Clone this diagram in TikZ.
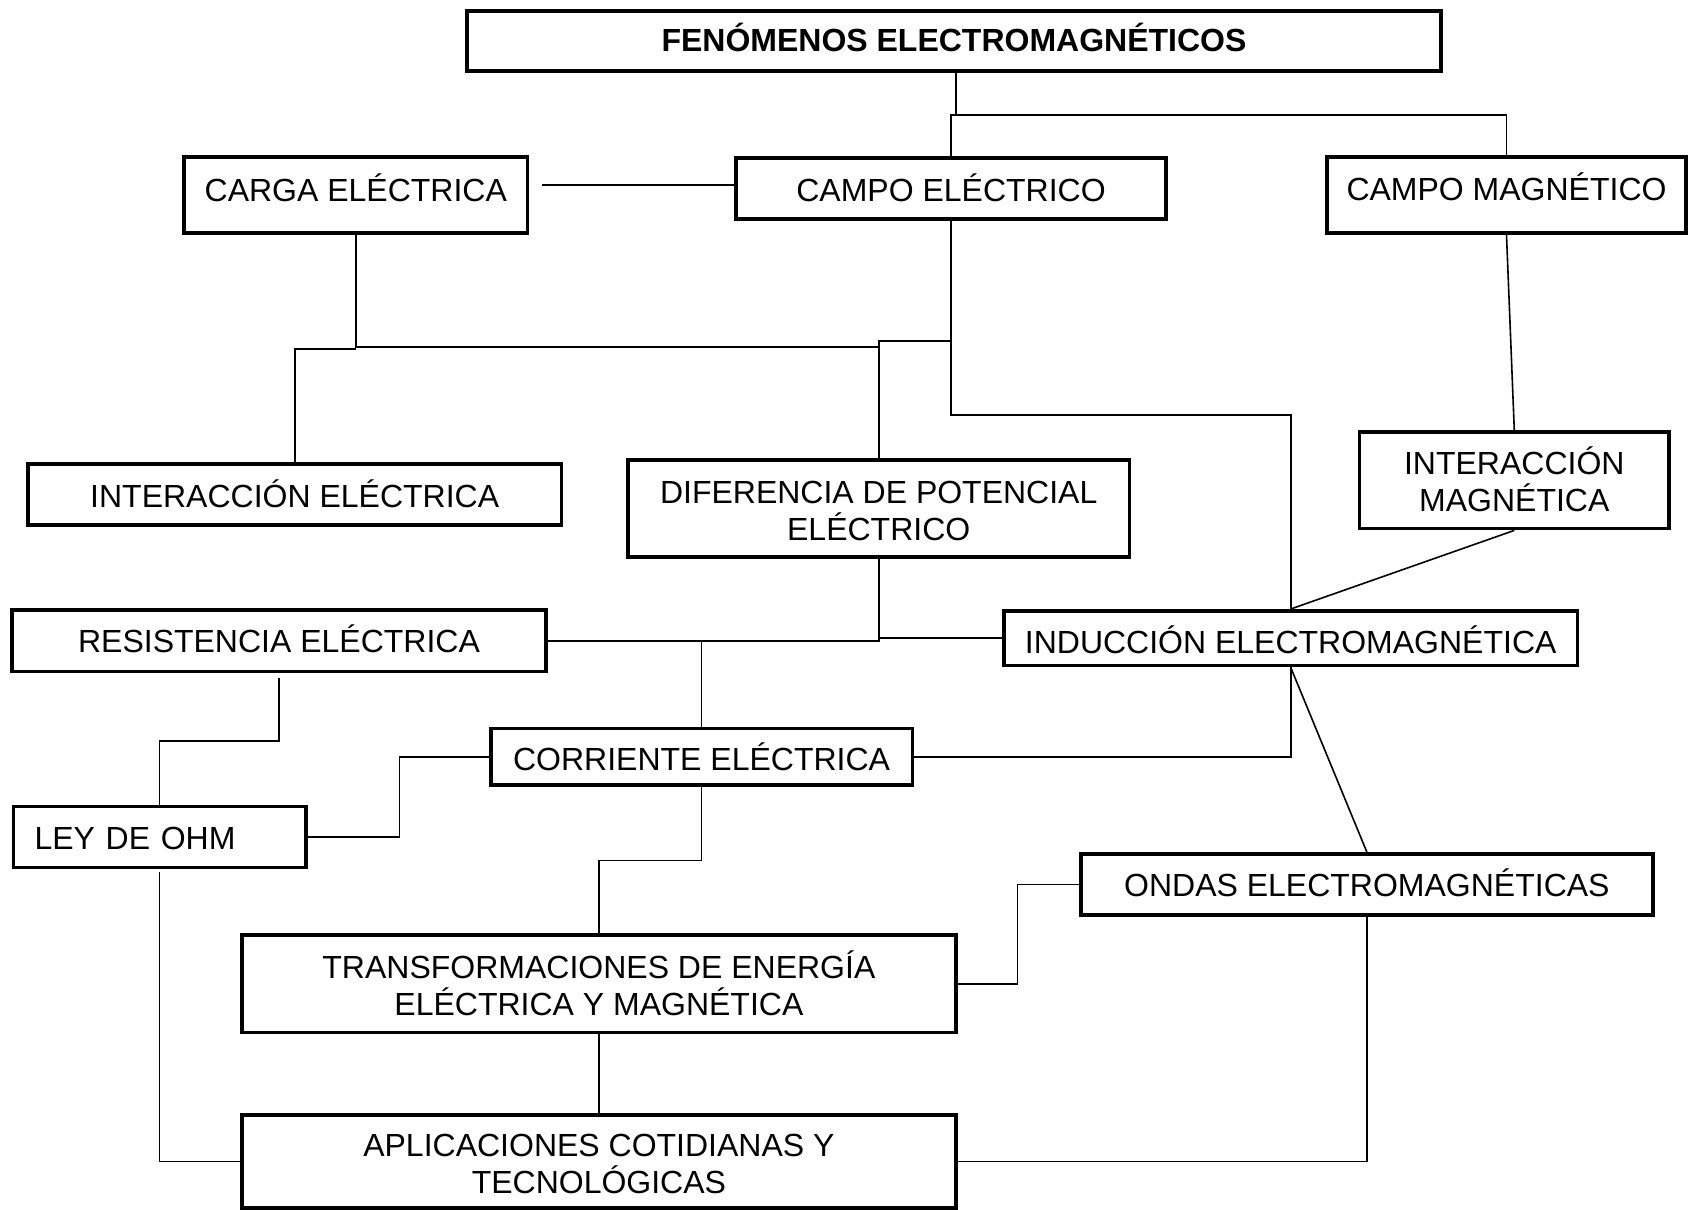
\documentclass[tikz,border=0pt]{standalone}
\usepackage{fontspec}
\setmainfont{Liberation Sans}
\begin{document}
\begin{tikzpicture}[x=0.5pt,y=-0.5pt,
  box/.style={draw, line width=1.8pt, inner sep=0pt, align=center,
    font=\fontsize{16pt}{18.5pt}\selectfont},
  conn/.style={line width=0.8pt}]
\useasboundingbox (0,0) rectangle (1688,1210);
\fill[white] (0,0) rectangle (1688,1210);

% nodes
\node[box, font=\fontsize{16pt}{18.5pt}\selectfont\bfseries, minimum width=487pt, minimum height=30pt, text height=13.1pt, text depth=2.9pt] (title) at (954,41) {FENÓMENOS ELECTROMAGNÉTICOS};
\node[box, minimum width=171.75pt, minimum height=38pt, text height=11.2pt, text depth=4.8pt] (carga) at (355.8,195) {CARGA ELÉCTRICA};
\node[box, minimum width=215pt, minimum height=30.5pt, text height=14.7pt, text depth=1.3pt] (campoe) at (951,188.5) {CAMPO ELÉCTRICO};
\node[box, minimum width=179.5pt, minimum height=38pt, text height=10.95pt, text depth=5.05pt] (campom) at (1506.5,195) {CAMPO MAGNÉTICO};
\node[box, minimum width=266.7pt, minimum height=30.35pt, text height=14.35pt, text depth=1.65pt] (intere) at (294.7,494.4) {INTERACCIÓN ELÉCTRICA};
\node[box, minimum width=250.65pt, minimum height=48.35pt, text height=31.6pt, text depth=0pt] (dif) at (878.7,508.4) {DIFERENCIA DE POTENCIAL\\ELÉCTRICO};
\node[box, minimum width=154.7pt, minimum height=48.3pt, text height=30.7pt, text depth=0pt] (interm) at (1514.3,480.3) {INTERACCIÓN\\MAGNÉTICA};
\node[box, minimum width=267.25pt, minimum height=30.7pt, text height=14.1pt, text depth=1.9pt] (resis) at (279,640.7) {RESISTENCIA ELÉCTRICA};
\node[box, minimum width=286.9pt, minimum height=27.4pt, text height=15.4pt, text depth=0.6pt] (induc) at (1290.7,638.2) {INDUCCIÓN ELECTROMAGNÉTICA};
\node[box, minimum width=146.1pt, minimum height=30.5pt, text width=125pt, align=left, text height=14.15pt, text depth=1.85pt] (ley) at (159.6,836.9) {LEY DE OHM};
\node[box, minimum width=210.75pt, minimum height=28.35pt, text height=14.9pt, text depth=1.1pt] (corr) at (701.6,756.9) {CORRIENTE ELÉCTRICA};
\node[box, minimum width=286.1pt, minimum height=30.45pt, text height=14.25pt, text depth=1.75pt] (ondas) at (1366.9,884.4) {ONDAS ELECTROMAGNÉTICAS};
\node[box, minimum width=357.15pt, minimum height=48.8pt, text height=31.3pt, text depth=0pt] (transf) at (598.9,983.7) {TRANSFORMACIONES DE ENERGÍA\\ELÉCTRICA Y MAGNÉTICA};
\node[box, minimum width=357.15pt, minimum height=46.5pt, text height=31.5pt, text depth=0pt] (aplic) at (598.9,1161.5) {APLICACIONES COTIDIANAS Y\\TECNOLÓGICAS};

% helper coordinates
\coordinate (t1) at (956,0);
\coordinate (j1) at (1200,115);
\coordinate (k1) at (600,185);
\coordinate (j2) at (320,349);
\coordinate (j3) at (600,347);
\coordinate (j4) at (900,341);
\coordinate (j5) at (1100,414.7);
\coordinate (j6) at (220,740.8);
\coordinate (j7) at (399.4,800);
\coordinate (j8) at (1017.3,930);
\coordinate (j9) at (650,860.4);

% connectors
\draw[conn] (title.south -| t1) -- (t1 |- j1);
\draw[conn] (campoe.north) |- (j1) -| (campom.north);
\draw[conn, shorten <=6.25pt] (carga.east |- k1) -- (campoe.west |- k1);
\draw[conn] (carga.south) |- (dif.north |- j3);
\draw[conn] (intere.north) |- (carga.south |- j2);
\draw[conn] (dif.north) |- (campoe.south |- j4);
\draw[conn] (campoe.south) |- (j5) -| (induc.north);
\draw[conn] (campom.south) -- (interm.north);
\draw[conn] (interm.south) -- (induc.north);
\draw[conn] (dif.south) |- (resis.east);
\draw[conn] (induc.west) -- (induc.west -| dif.south);
\draw[conn] (corr.north) -- (corr.north |- resis.east);
\draw[conn, shorten <=2.5pt] (resis.south) |- (j6) -| (ley.north);
\draw[conn] (ley.east) -- (ley.east -| j7) -- (corr.west -| j7) -- (corr.west);
\draw[conn] (corr.east) -| (induc.south);
\draw[conn] (induc.south) -- (ondas.north);
\draw[conn] (ondas.west) -- (ondas.west -| j8) -- (transf.east -| j8) -- (transf.east);
\draw[conn] (corr.south) |- (j9) -| (transf.north);
\draw[conn] (transf.south) -- (aplic.north);
\draw[conn, shorten <=1.5pt] (ley.south) |- (aplic.west);
\draw[conn] (ondas.south) |- (aplic.east);
\end{tikzpicture}
\end{document}
